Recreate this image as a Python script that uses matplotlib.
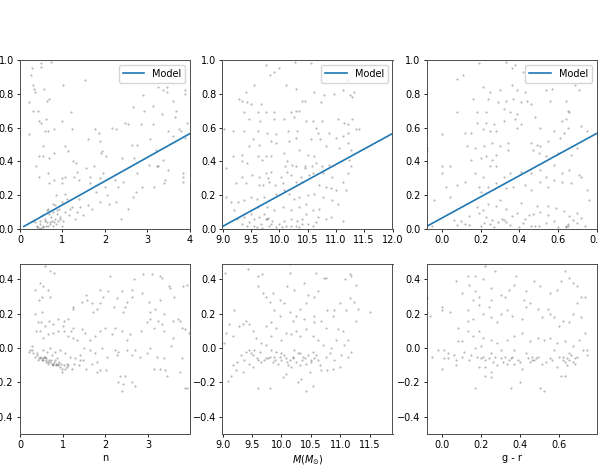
import matplotlib
matplotlib.use("Agg")
import matplotlib.pyplot as plt
from matplotlib.ticker import MultipleLocator, FormatStrFormatter

# ---- top row: observed value vs each property ----
n_top = [0.49,0.49,0.73,0.29,0.26,0.30,0.34,0.57,0.36,1.02,0.22,0.30,0.42,1.53,0.64,0.69,2.89,3.25,3.45,3.36,3.47,3.88,3.88,3.59,2.65,2.92,3.12,3.67,3.33,3.65,3.92,
         0.21,0.45,0.49,0.61,0.98,1.19,1.22,1.76,1.87,2.16,2.25,2.47,2.53,2.85,3.12,3.49,3.73,3.78,0.59,0.67,0.81,0.53,0.45,0.53,0.69,0.80,1.06,1.14,1.61,1.88,1.92,2.02,1.91,
         2.63,2.75,2.39,2.69,3.07,3.20,3.36,3.59,3.88,1.55,1.75,1.32,1.24,1.33,1.27,0.38,0.45,0.67,0.68,0.81,0.98,1.06,0.98,0.85,1.06,1.40,1.65,1.65,1.88,1.96,2.24,2.31,2.42,
         2.76,3.22,3.25,3.41,3.39,3.83,3.84,3.83,3.49,3.04,2.67,2.73,3.16,2.86,1.61,1.88,2.37,2.27,1.41,1.35,1.18,0.98,0.77,0.63,0.51,0.31,0.47,0.59,0.71,0.82,0.93,0.98,
         0.53,0.41,0.47,0.77,0.63,0.86,0.69,0.36,1.02,1.22,1.38,1.10,0.55,0.60,0.65,0.70,0.75,0.80,0.85,0.90,0.95,0.72,0.78,0.88,0.92,0.50,0.45,0.58,1.05,1.15,0.40,0.66,
         0.83,1.30,1.48,1.70,2.05,2.10,2.55,2.00,1.80]
y_n_top = [0.98,0.96,0.99,0.95,0.91,0.85,0.83,0.83,0.81,0.85,0.75,0.70,0.70,0.88,0.76,0.77,0.79,0.84,0.84,0.82,0.81,0.82,0.80,0.76,0.72,0.70,0.73,0.70,0.68,0.66,0.63,
           0.56,0.64,0.63,0.65,0.64,0.69,0.59,0.59,0.57,0.60,0.59,0.63,0.62,0.62,0.62,0.58,0.59,0.58,0.58,0.58,0.59,0.49,0.43,0.43,0.42,0.45,0.49,0.46,0.53,0.52,0.46,0.43,0.45,
           0.50,0.50,0.42,0.42,0.53,0.47,0.41,0.55,0.54,0.36,0.37,0.39,0.40,0.34,0.31,0.37,0.31,0.33,0.27,0.29,0.30,0.31,0.27,0.20,0.21,0.29,0.31,0.27,0.30,0.33,0.29,0.25,0.28,
           0.33,0.37,0.37,0.29,0.27,0.33,0.31,0.28,0.35,0.38,0.19,0.22,0.25,0.25,0.14,0.16,0.06,0.16,0.13,0.10,0.12,0.16,0.15,0.11,0.08,0.05,0.05,0.05,0.04,0.06,0.07,0.02,
           0.02,0.01,0.03,0.02,0.04,0.09,0.09,0.04,0.05,0.13,0.18,0.18,0.01,0.015,0.02,0.03,0.05,0.04,0.03,0.05,0.06,0.07,0.10,0.11,0.12,0.005,0.005,0.06,0.10,0.08,0.02,0.12,
           0.14,0.06,0.08,0.12,0.20,0.15,0.12,0.25,0.22]

m_top = [9.76,10.00,10.28,10.56,9.84,9.91,9.56,10.12,10.29,11.18,11.21,11.12,11.32,11.28,11.25,10.62,10.79,10.97,10.74,10.46,10.40,9.41,9.35,9.44,9.29,9.50,9.68,
         9.76,9.91,10.21,10.29,10.35,9.62,9.38,9.46,9.66,9.91,10.09,10.26,10.47,10.60,10.76,11.03,11.15,11.21,11.29,11.35,9.03,9.18,9.38,9.62,9.79,9.94,10.15,10.31,
         10.65,10.68,10.88,11.00,11.12,11.21,11.41,11.22,9.53,9.47,9.65,9.85,9.95,10.18,10.29,10.56,10.72,10.82,11.06,11.26,9.18,9.35,9.62,9.76,9.85,10.09,10.35,10.50,
         10.62,10.65,10.46,10.58,10.76,10.88,11.24,11.26,9.34,9.44,9.69,10.13,10.22,10.29,9.07,9.35,9.52,9.64,9.76,9.81,9.85,10.03,10.13,10.21,10.38,10.52,10.59,10.78,
         10.94,11.13,11.21,9.24,9.41,9.64,9.72,9.82,9.93,10.06,10.29,10.40,10.71,10.82,10.91,11.00,11.18,9.07,9.15,9.28,9.38,9.50,9.60,9.74,9.95,10.09,10.18,10.26,10.35,
         10.50,10.62,10.78,10.93,11.03,9.21,9.26,9.38,9.47,9.56,9.65,9.76,9.88,10.00,10.09,10.21,10.32,10.41,10.47,10.59,10.68,10.82,10.91,11.12,9.50,9.62,9.79,9.91,10.06,
         10.21,10.35,10.47,10.71,9.35,9.44,9.56,9.68,9.82,9.94,10.12,10.29,10.41,10.59,9.74,9.60,9.70,9.85,10.05,10.20,10.35,10.50,10.65,9.78,9.80,10.45,10.10]
y_m_top = [0.97,0.95,0.99,0.98,0.91,0.93,0.85,0.85,0.83,0.88,0.88,0.82,0.81,0.78,0.79,0.81,0.79,0.80,0.75,0.76,0.76,0.81,0.76,0.75,0.77,0.74,0.74,
           0.69,0.69,0.69,0.70,0.70,0.69,0.69,0.65,0.64,0.65,0.65,0.66,0.64,0.64,0.64,0.65,0.63,0.62,0.65,0.59,0.59,0.58,0.58,0.58,0.57,0.56,0.58,0.58,
           0.60,0.57,0.57,0.54,0.55,0.57,0.59,0.51,0.53,0.49,0.50,0.52,0.51,0.52,0.54,0.53,0.53,0.49,0.48,0.47,0.43,0.44,0.43,0.43,0.43,0.45,0.47,0.44,
           0.43,0.39,0.37,0.37,0.37,0.38,0.41,0.37,0.40,0.39,0.41,0.40,0.38,0.37,0.36,0.31,0.32,0.31,0.33,0.30,0.34,0.31,0.34,0.32,0.31,0.32,0.33,0.33,
           0.31,0.28,0.33,0.27,0.27,0.26,0.26,0.28,0.26,0.27,0.28,0.28,0.26,0.25,0.24,0.23,0.23,0.19,0.16,0.16,0.17,0.19,0.18,0.19,0.21,0.23,0.21,0.18,0.19,
           0.20,0.21,0.19,0.17,0.15,0.11,0.06,0.07,0.04,0.06,0.07,0.06,0.05,0.03,0.05,0.06,0.05,0.06,0.09,0.11,0.07,0.06,0.07,0.05,0.09,0.13,0.13,0.11,0.13,
           0.11,0.13,0.15,0.12,0.03,0.02,0.02,0.03,0.02,0.01,0.02,0.02,0.03,0.02,0.09,0.01,0.005,0.03,0.01,0.02,0.01,0.03,0.04,0.06,0.065,0.36,0.37]

gr_top = [0.19,0.33,0.36,0.38,0.11,0.08,0.42,0.21,0.25,0.30,0.36,0.39,0.43,0.54,0.57,0.69,0.71,0.16,0.24,0.29,0.33,0.37,0.41,0.44,0.56,0.64,0.08,0.18,0.23,0.32,
          0.35,0.39,0.46,0.65,0.66,0.48,0.18,0.23,0.27,0.32,0.38,0.41,0.62,0.64,0.72,0.00,0.12,0.15,0.21,0.25,0.28,0.39,0.51,0.58,0.63,0.65,-0.08,-0.08,0.13,0.17,
          0.22,0.26,0.30,0.34,0.46,0.49,0.51,0.55,0.61,0.75,0.00,0.00,0.04,0.15,0.20,0.23,0.26,0.28,0.34,0.47,0.50,0.54,0.60,0.67,0.70,0.08,0.12,0.17,0.21,0.25,
          0.28,0.32,0.35,0.41,0.46,0.51,0.54,0.58,0.62,0.66,0.71,0.72,0.02,0.04,0.19,0.20,0.24,0.28,0.33,0.37,0.43,0.46,0.51,0.55,0.58,0.62,0.67,0.75,0.76,-0.04,
          0.06,0.08,0.10,0.14,0.18,0.19,0.21,0.24,0.28,0.30,0.33,0.36,0.39,0.41,0.45,0.49,0.51,0.55,0.59,0.63,0.66,0.70,0.72,0.14,0.22,0.26,0.29,0.32,0.35,0.42,
          0.46,0.50,0.54,0.58,0.65,0.68,0.70,-0.05,0.20,0.27,0.40,0.60,0.74,0.25,0.31,0.33,0.48,0.64,0.64,0.65,0.23,0.12,0.43,0.47,0.55]
y_gr_top = [0.98,0.99,0.95,0.97,0.91,0.89,0.93,0.84,0.81,0.82,0.85,0.82,0.81,0.82,0.83,0.85,0.82,0.77,0.77,0.75,0.76,0.77,0.75,0.76,0.76,0.76,0.69,0.69,0.69,0.71,
            0.69,0.68,0.74,0.70,0.69,0.66,0.63,0.63,0.62,0.64,0.65,0.62,0.64,0.65,0.61,0.56,0.57,0.57,0.59,0.58,0.58,0.60,0.60,0.58,0.57,0.60,0.48,0.46,0.49,0.48,
            0.49,0.51,0.49,0.51,0.51,0.50,0.49,0.52,0.54,0.58,0.37,0.33,0.37,0.41,0.42,0.43,0.41,0.44,0.47,0.47,0.45,0.43,0.45,0.44,0.48,0.26,0.28,0.33,0.31,0.37,
            0.37,0.31,0.33,0.34,0.33,0.35,0.31,0.38,0.33,0.35,0.32,0.31,0.25,0.19,0.25,0.22,0.25,0.27,0.24,0.25,0.26,0.23,0.28,0.25,0.29,0.28,0.27,0.23,0.17,0.17,
            0.055,0.026,0.045,0.079,0.13,0.094,0.114,0.15,0.134,0.173,0.118,0.075,0.094,0.154,0.085,0.134,0.098,0.134,0.124,0.104,0.079,0.094,0.065,0.026,0.035,0.055,0.039,0.055,0.026,0.035,
            0.016,0.02,0.035,0.045,0.016,0.055,0.035,0.016,0.02,0.012,0.012,0.012,0.016,0.03,0.06,0.04,0.02,0.01,0.02,0.03,0.07,0.03,0.06,0.09,0.08]

# ---- bottom row: residuals vs each property ----
n_res = [0.59,0.70,0.80,0.47,0.53,0.34,0.66,0.51,0.45,0.70,0.34,0.51,0.41,0.48,0.59,0.69,0.78,0.90,1.02,1.13,1.00,1.19,1.23,0.55,0.66,0.78,0.90,1.03,1.13,1.25,
         0.38,0.47,1.23,1.45,1.25,1.68,1.72,1.58,1.55,1.80,1.88,1.95,1.88,2.05,2.11,2.27,2.19,2.42,2.46,2.50,2.62,2.38,2.62,2.85,3.01,3.05,3.05,3.16,3.27,3.36,
         3.24,3.32,2.66,2.89,3.09,3.27,3.32,3.48,3.52,3.61,3.81,3.92,3.71,3.75,3.79,3.59,3.59,3.36,3.14,2.97,2.83,2.58,2.50,2.38,2.23,2.15,1.99,1.88,1.76,1.64,
         1.52,1.45,1.34,1.50,1.63,1.76,1.91,2.03,2.23,2.30,2.50,2.62,2.70,2.81,2.97,3.05,3.20,3.36,3.53,3.28,3.14,3.40,3.44,3.79,3.75,3.87,3.91,2.70,2.46,2.34,
         2.30,2.41,2.38,2.27,2.02,1.80,1.81,1.88,1.68,1.55,1.41,1.27,1.09,0.98,0.84,0.70,0.59,0.47,0.39,0.27,0.22,0.31,0.35,0.43,0.51,0.61,0.66,0.77,0.82,0.90,
         0.94,1.02,1.09,0.98,0.86,0.74,0.63,0.55,0.70,0.82,0.94,1.05,1.17,1.29,1.41,1.48,1.37,1.21,2.62,3.87,3.95,0.27,0.23,0.45,0.50,0.55,0.60,0.65,0.72,0.75,
         0.80,0.85,0.88,0.92,0.96,0.53,0.62,0.68,0.78,0.57,0.40,1.05,1.12]
r_n = [0.48,0.45,0.44,0.38,0.36,0.34,0.34,0.30,0.28,0.30,0.20,0.21,0.15,0.15,0.13,0.16,0.14,0.17,0.16,0.17,0.13,0.10,0.12,0.06,0.08,0.09,0.10,0.10,0.07,0.06,
       0.10,0.10,0.24,0.27,0.23,0.26,0.21,0.28,0.31,0.23,0.26,0.30,0.34,0.33,0.42,0.29,0.24,0.21,0.24,0.27,0.30,0.33,0.34,0.32,0.27,0.21,0.17,0.23,0.28,0.20,
       0.16,0.14,0.40,0.43,0.43,0.42,0.41,0.36,0.35,0.30,0.36,0.37,0.17,0.16,0.12,0.16,0.06,0.10,0.12,0.15,0.10,0.08,0.05,0.10,0.12,0.08,0.12,0.10,0.07,0.05,
       0.09,0.11,0.05,0.00,-0.01,-0.03,0.00,-0.05,-0.01,-0.02,-0.01,-0.04,-0.01,-0.05,-0.03,0.00,-0.05,-0.06,0.01,-0.12,-0.12,-0.13,-0.16,-0.06,-0.14,-0.23,-0.23,-0.22,-0.16,-0.16,
       -0.20,-0.21,-0.25,-0.04,-0.13,-0.08,-0.14,-0.13,-0.09,-0.12,-0.07,-0.09,-0.11,-0.12,-0.10,-0.08,-0.05,-0.05,-0.03,-0.01,-0.02,-0.03,-0.05,-0.07,-0.07,-0.07,-0.09,-0.09,-0.07,-0.09,
       -0.11,-0.10,-0.09,-0.14,-0.06,-0.04,-0.02,-0.01,0.00,-0.02,-0.01,-0.03,-0.05,-0.06,-0.04,-0.07,-0.10,-0.12,-0.20,0.11,0.09,0.01,-0.01,-0.06,-0.06,-0.07,-0.06,-0.08,-0.07,-0.09,
       -0.08,-0.09,-0.10,-0.08,-0.09,-0.06,-0.08,-0.07,-0.10,-0.05,-0.04,-0.12,-0.10]

m_res = [9.05,9.44,9.60,9.67,9.61,10.15,10.14,10.09,10.22,10.39,10.59,10.73,10.76,11.09,11.16,11.19,11.27,11.16,11.24,11.30,10.99,11.10,11.27,11.50,10.88,10.77,10.90,
         10.62,10.56,10.45,10.42,10.31,10.25,10.19,10.39,10.56,10.55,10.68,10.76,10.96,11.05,11.13,11.07,11.19,11.13,11.02,10.90,10.99,10.88,10.77,10.65,10.51,10.45,10.36,
         10.28,10.22,10.14,10.05,9.97,9.90,9.80,9.74,9.65,9.58,9.51,9.45,9.37,9.31,9.24,9.17,9.23,9.14,9.09,9.34,9.51,9.61,9.81,10.02,10.08,10.16,10.28,10.34,10.42,
         10.53,10.68,9.99,9.82,9.74,9.65,9.57,9.51,9.45,9.40,9.34,9.28,9.20,9.11,9.06,9.03,9.17,9.74,9.82,9.91,9.97,9.88,9.80,9.74,9.68,9.85,9.97,10.05,10.14,10.25,
         10.08,10.16,10.31,10.42,10.53,10.62,10.70,10.82,10.76,10.59,10.53,10.31,10.19,10.08,9.99,9.91,9.82,9.63,9.54,9.48,9.40,9.94,10.11,10.31,10.42,10.48,10.85,10.93,
         9.45,9.70,9.78,9.85,10.00,10.10,10.20,10.25,10.35,10.40,10.50,10.55,9.60,9.88,10.62]
r_m = [0.44,0.46,0.42,0.43,0.36,0.49,0.44,0.36,0.34,0.38,0.44,0.41,0.41,0.40,0.43,0.42,0.37,0.29,0.27,0.23,0.26,0.22,0.16,0.21,0.19,0.22,0.22,
       0.33,0.30,0.31,0.26,0.23,0.19,0.16,0.17,0.19,0.15,0.16,0.12,0.11,0.10,0.05,0.02,-0.02,-0.05,-0.04,-0.07,-0.11,-0.12,-0.13,-0.10,-0.07,-0.04,-0.05,
       -0.03,-0.01,-0.07,-0.04,-0.05,-0.07,-0.05,-0.06,-0.08,-0.06,-0.04,-0.09,-0.07,-0.04,-0.08,-0.10,-0.13,-0.16,-0.19,-0.14,-0.11,-0.23,-0.23,-0.17,-0.15,-0.11,-0.20,-0.18,-0.25,
       -0.22,-0.13,0.05,0.07,0.02,0.03,0.06,0.10,0.14,0.16,0.14,0.13,0.22,0.14,0.09,0.03,0.07,0.13,0.15,0.12,0.19,0.22,0.27,0.30,0.32,0.32,0.28,0.26,0.21,0.10,
       0.09,0.08,0.07,0.11,0.07,0.05,0.02,-0.03,-0.05,-0.04,-0.02,-0.03,-0.05,-0.06,-0.03,-0.02,-0.01,-0.02,-0.01,-0.03,-0.02,-0.09,-0.10,-0.10,-0.09,-0.14,0.00,0.05,
       -0.01,-0.07,-0.06,-0.08,-0.07,-0.08,-0.06,-0.08,-0.07,-0.06,-0.08,-0.06,-0.07,-0.05,-0.07]

gr_res = [-0.08,-0.08,-0.06,0.00,0.00,0.04,0.01,0.01,0.00,0.07,0.06,0.03,0.11,0.08,0.13,0.13,0.17,0.18,0.15,0.22,0.25,0.19,0.20,0.25,0.27,0.30,0.32,0.35,0.33,0.37,
          0.39,0.41,0.43,0.46,0.47,0.49,0.53,0.55,0.57,0.59,0.62,0.65,0.67,0.69,0.72,0.74,0.63,0.61,0.50,0.52,0.40,0.35,0.25,0.22,0.17,0.08,0.10,0.16,0.19,0.21,
          0.25,0.28,0.33,0.37,0.41,0.45,0.49,0.52,0.55,0.59,0.63,0.67,0.70,0.73,0.13,0.16,0.19,0.21,0.24,0.25,0.28,0.30,0.33,0.36,0.41,0.42,0.43,0.45,0.49,0.51,
          0.54,0.55,0.57,0.60,0.62,0.65,0.67,0.69,0.71,0.73,0.07,0.13,0.17,0.21,0.22,0.27,0.25,0.30,0.32,0.34,0.37,0.38,0.43,0.47,0.50,0.55,0.59,0.61,0.63,0.65,
          0.67,0.69,0.71,0.14,0.17,0.10,0.16,0.19,0.25,-0.02,-0.05,0.03,0.07,0.10,0.14,0.21,0.28,0.31,0.37,0.45,0.51,0.60,0.64,0.68,0.74,0.22,0.24,0.26,0.30,0.34,
          0.36,0.44,0.46,0.48,0.62,0.64,0.65,0.66,0.63,0.20,0.40,0.56,0.68]
r_gr = [0.29,0.21,0.19,0.24,0.22,0.21,-0.01,-0.06,-0.12,-0.10,-0.04,-0.03,-0.02,0.12,0.10,0.16,0.00,-0.05,-0.04,-0.11,-0.14,-0.11,0.01,-0.03,-0.05,-0.01,-0.05,-0.06,-0.09,-0.01,
        -0.07,-0.12,-0.03,-0.05,-0.07,-0.05,-0.08,-0.06,-0.01,-0.11,-0.07,-0.03,-0.08,-0.05,-0.01,-0.04,-0.16,-0.16,-0.23,-0.25,-0.20,-0.23,-0.17,-0.16,-0.23,0.04,0.04,0.07,0.10,0.06,
        0.05,0.03,0.05,0.07,0.09,0.04,0.06,0.05,0.06,0.03,0.04,0.01,0.05,0.09,0.22,0.17,0.25,0.20,0.24,0.18,0.15,0.20,0.22,0.19,0.17,0.28,0.24,0.26,0.23,0.18,
        0.23,0.20,0.18,0.13,0.16,0.15,0.20,0.26,0.18,0.30,0.39,0.42,0.42,0.40,0.48,0.45,0.35,0.31,0.30,0.34,0.37,0.42,0.33,0.39,0.36,0.32,0.34,0.39,0.45,0.41,
        0.38,0.36,0.30,0.37,0.33,0.32,0.28,0.30,0.28,-0.01,-0.05,-0.06,-0.07,-0.05,-0.07,-0.05,-0.10,-0.08,-0.09,-0.08,-0.09,-0.05,-0.10,-0.09,-0.01,-0.07,-0.06,-0.08,-0.06,-0.07,
        -0.05,-0.06,-0.07,-0.06,-0.05,-0.06,-0.07,-0.04,-0.08,-0.06,-0.08,-0.07,-0.06]

# model line endpoints (same fit drawn in every top panel)
model_y = [0.015, 0.565]
model_n = [0.09, 4.0]
model_m = [9.0, 12.0]
model_gr = [-0.08, 0.8]

fig = plt.figure(figsize=(5.98, 4.72), dpi=100)
lefts = [20/598, 222.5/598, 426.5/598]
w = 170/598
top_b, top_h = (472-229)/472, 169/472
bot_b, bot_h = (472-434)/472, 170/472

tops = [(n_top, y_n_top, model_n, (0, 4), 1.0),
        (m_top, y_m_top, model_m, (9, 12), 0.5),
        (gr_top, y_gr_top, model_gr, (-0.08, 0.8), 0.2)]
bots = [(n_res, r_n, (0, 3.98), "n", 1.0),
        (m_res, r_m, (9, 11.89), r"$M(M_{\odot})$", 0.5),
        (gr_res, r_gr, (-0.08, 0.79), "g - r", 0.2)]
fmts = ['%d', '%.1f', '%.1f']

def style(ax):
    ax.tick_params(labelsize=7, length=2.5, width=0.6, pad=2)
    for s in ax.spines.values():
        s.set_linewidth(0.7)
        s.set_color('0.3')

for i in range(3):
    x, y, mx, xl, step = tops[i]
    ax = fig.add_axes([lefts[i], top_b, w, top_h])
    ax.scatter(x, y, s=2.5, c='k', alpha=0.28, linewidths=0)
    ax.plot(mx, model_y, color='#1f77b4', lw=1.2, label='Model')
    ax.set_xlim(xl)
    ax.set_ylim(0, 1)
    ax.xaxis.set_major_locator(MultipleLocator(step))
    ax.xaxis.set_major_formatter(FormatStrFormatter(fmts[i]))
    ax.legend(loc='upper right', fontsize=7, handlelength=2.2, borderpad=0.4)
    style(ax)

    x, r, xl, lab, step = bots[i]
    ax = fig.add_axes([lefts[i], bot_b, w, bot_h])
    ax.scatter(x, r, s=2.5, c='k', alpha=0.28, linewidths=0)
    ax.set_xlim(xl)
    ax.set_ylim(-0.5, 0.49)
    ax.xaxis.set_major_locator(MultipleLocator(step))
    ax.xaxis.set_major_formatter(FormatStrFormatter(fmts[i]))
    ax.set_xlabel(lab, fontsize=7, labelpad=2)
    style(ax)

fig.savefig("out.png", dpi=100)
